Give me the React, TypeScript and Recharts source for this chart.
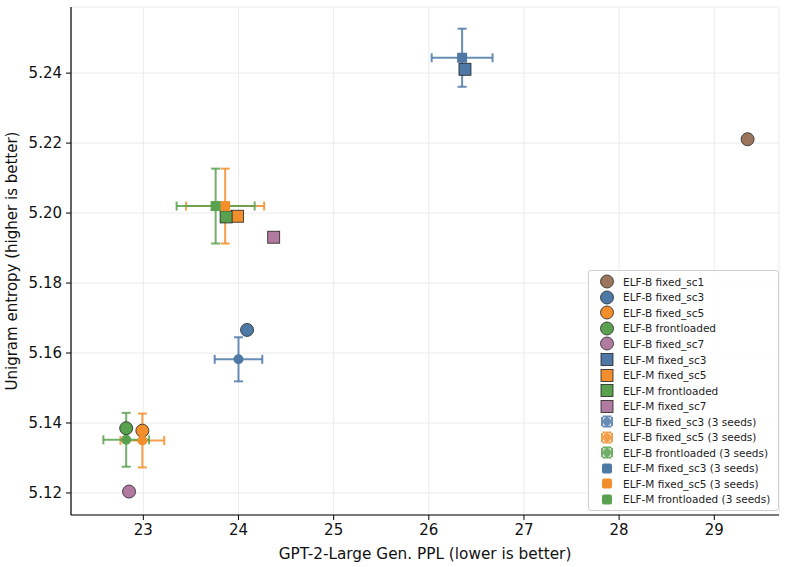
import React from 'react';
import { ScatterChart, Scatter, XAxis, YAxis, CartesianGrid, ErrorBar, Label } from 'recharts';

// single-run results
const singleNames = [
  'ELF-B fixed_sc1',
  'ELF-B fixed_sc3',
  'ELF-B fixed_sc5',
  'ELF-B frontloaded',
  'ELF-B fixed_sc7',
  'ELF-M fixed_sc3',
  'ELF-M fixed_sc5',
  'ELF-M frontloaded',
  'ELF-M fixed_sc7',
];
const singlePpl = [29.35, 24.09, 22.99, 22.82, 22.85, 26.38, 23.99, 23.87, 24.37];
const singleEntropy = [5.2211, 5.1666, 5.1378, 5.1385, 5.1204, 5.2411, 5.1991, 5.1989, 5.1931];
const singleColors = ['#9c755f', '#4e79a7', '#f28e2b', '#59a14f', '#b07aa1', '#4e79a7', '#f28e2b', '#59a14f', '#b07aa1'];
const singleShapes = ['circle', 'circle', 'circle', 'circle', 'circle', 'square', 'square', 'square', 'square'];

// 3-seed means with std
const seedNames = [
  'ELF-B fixed_sc3 (3 seeds)',
  'ELF-B fixed_sc5 (3 seeds)',
  'ELF-B frontloaded (3 seeds)',
  'ELF-M fixed_sc3 (3 seeds)',
  'ELF-M fixed_sc5 (3 seeds)',
  'ELF-M frontloaded (3 seeds)',
];
const seedPpl = [24.0, 22.99, 22.82, 26.35, 23.86, 23.76];
const seedPplStd = [0.25, 0.23, 0.24, 0.32, 0.41, 0.41];
const seedEntropy = [5.1582, 5.135, 5.1352, 5.2444, 5.202, 5.202];
const seedEntropyStd = [0.0063, 0.0077, 0.0077, 0.0083, 0.0107, 0.0107];
const seedColors = ['#4e79a7', '#f28e2b', '#59a14f', '#4e79a7', '#f28e2b', '#59a14f'];
const seedShapes = ['circle', 'circle', 'circle', 'square', 'square', 'square'];

const xTicks = [23, 24, 25, 26, 27, 28, 29];
const yTicks = [5.12, 5.14, 5.16, 5.18, 5.2, 5.22, 5.24];

const FONT = '"DejaVu Sans", sans-serif';

const makeShape = (shape: string, color: string, size: number, edge: boolean) => (props: any) => {
  const { cx, cy } = props;
  if (cx == null || cy == null) return null;
  const stroke = edge ? '#222' : 'none';
  if (shape === 'circle') {
    return <circle cx={cx} cy={cy} r={size / 2} fill={color} stroke={stroke} strokeWidth={0.8} />;
  }
  return <rect x={cx - size / 2} y={cy - size / 2} width={size} height={size} fill={color} stroke={stroke} strokeWidth={0.8} />;
};

const legendRows = [
  ...singleNames.map((n, i) => ({ name: n, color: singleColors[i], kind: singleShapes[i] })),
  ...seedNames.map((n, i) => ({ name: n, color: seedColors[i], kind: i < 3 ? 'seedB' : 'seedM' })),
];

const LegendBox = () => (
  <div
    style={{
      position: 'absolute',
      left: 588,
      top: 270,
      border: '1px solid #d0d0d0',
      borderRadius: 3,
      background: 'rgba(255,255,255,0.85)',
      padding: '3px 8px 3px 6px',
      fontFamily: FONT,
      fontSize: 10.5,
      color: '#222',
    }}
  >
    {legendRows.map((r) => (
      <div key={r.name} style={{ display: 'flex', alignItems: 'center', height: 15.55 }}>
        <svg width={26} height={15} style={{ marginRight: 2 }}>
          {r.kind === 'circle' && <circle cx={12} cy={7.5} r={6.5} fill={r.color} stroke="#222" strokeWidth={0.8} />}
          {r.kind === 'square' && <rect x={6} y={1.5} width={12} height={12} fill={r.color} stroke="#222" strokeWidth={0.8} />}
          {r.kind === 'seedB' && (
            <g stroke={r.color} strokeWidth={2} opacity={0.85}>
              <line x1={7} y1={7.5} x2={17} y2={7.5} />
              <line x1={12} y1={2.5} x2={12} y2={12.5} />
              <line x1={7} y1={3} x2={7} y2={12} />
              <line x1={17} y1={3} x2={17} y2={12} />
              <line x1={7.5} y1={2.5} x2={16.5} y2={2.5} />
              <line x1={7.5} y1={12.5} x2={16.5} y2={12.5} />
              <circle cx={12} cy={7.5} r={4} fill={r.color} stroke="none" />
            </g>
          )}
          {r.kind === 'seedM' && <rect x={7} y={2.5} width={10} height={10} rx={2} fill={r.color} />}
        </svg>
        <span>{r.name}</span>
      </div>
    ))}
  </div>
);

const YLabel = (props: any) => {
  const vb = props.viewBox || {};
  const cy = vb.y + vb.height / 2;
  return (
    <text x={12} y={cy} transform={`rotate(-90, 12, ${cy})`} textAnchor="middle" dominantBaseline="central" fontFamily={FONT} fontSize={15} fill="#111">
      Unigram entropy (higher is better)
    </text>
  );
};

export default function App() {
  const tickStyle = { fontFamily: FONT, fontSize: 15, fill: '#111' };
  return (
    <div style={{ position: 'absolute', left: 0, top: 0, width: 787, height: 567, background: '#fff' }}>
      <ScatterChart width={787} height={567} margin={{ top: 7, right: 8, bottom: 0, left: 0 }}>
        <CartesianGrid stroke="#ebebeb" strokeWidth={1} />
        <XAxis
          type="number"
          dataKey="x"
          domain={[22.24, 29.68]}
          ticks={xTicks}
          allowDataOverflow
          height={52}
          tick={tickStyle}
          tickSize={5}
          tickMargin={4}
          stroke="#000"
          axisLine={{ stroke: '#000', strokeWidth: 1.2 }}
          tickLine={{ stroke: '#000' }}
        >
          <Label value="GPT-2-Large Gen. PPL (lower is better)" position="insideBottom" offset={8} style={{ fontFamily: FONT, fontSize: 15.3, fill: '#111' }} />
        </XAxis>
        <YAxis
          type="number"
          dataKey="y"
          domain={[5.1137, 5.2589]}
          ticks={yTicks}
          allowDataOverflow
          width={71}
          tick={tickStyle}
          tickFormatter={(v: number) => v.toFixed(2)}
          tickSize={5}
          tickMargin={4}
          stroke="#000"
          axisLine={{ stroke: '#000', strokeWidth: 1.2 }}
          tickLine={{ stroke: '#000' }}
        >
          <Label content={YLabel} />
        </YAxis>
        {singleNames.map((n, i) => (
          <Scatter
            key={n}
            name={n}
            data={[{ x: singlePpl[i], y: singleEntropy[i] }]}
            fill={singleColors[i]}
            shape={makeShape(singleShapes[i], singleColors[i], singleShapes[i] === 'circle' ? 13 : 12, true)}
            isAnimationActive={false}
          />
        ))}
        {seedNames.map((n, i) => (
          <Scatter
            key={n}
            name={n}
            data={[{ x: seedPpl[i], y: seedEntropy[i], ex: seedPplStd[i], ey: seedEntropyStd[i] }]}
            fill={seedColors[i]}
            shape={makeShape(seedShapes[i], seedColors[i], 10, false)}
            isAnimationActive={false}
          >
            <ErrorBar dataKey="ex" direction="x" width={4.5} stroke={seedColors[i]} strokeWidth={2} strokeOpacity={0.85} isAnimationActive={false} />
            <ErrorBar dataKey="ey" direction="y" width={4.5} stroke={seedColors[i]} strokeWidth={2} strokeOpacity={0.85} isAnimationActive={false} />
          </Scatter>
        ))}
      </ScatterChart>
      <LegendBox />
    </div>
  );
}
